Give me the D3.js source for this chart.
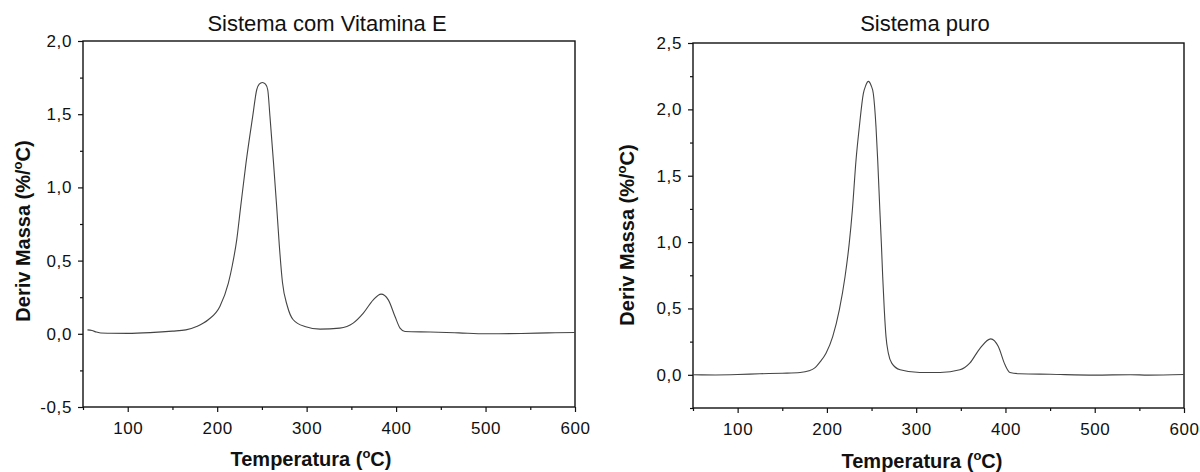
<!DOCTYPE html>
<html>
<head>
<meta charset="utf-8">
<script src="https://cdn.jsdelivr.net/npm/d3@7"></script>
<style>
body { margin: 0; background: #fff; }
text { font-family: "Liberation Sans", Arial, sans-serif; fill: #111; }
</style>
</head>
<body>
<script>
const width = 1200;
const height = 472;

// Sistema com Vitamina E
const vitTemp  = [55, 60, 65, 70, 80, 100, 125, 150, 165, 177, 190, 203, 212.5, 217, 221.8, 226.3, 232.2, 239.7, 244.2, 247, 250.5, 254, 256.5, 259, 263, 266.5, 269.5, 273, 278.4, 285, 298, 315, 337, 352, 363.4, 374.5, 383.2, 391.3, 398.8, 404.4, 410, 438, 470, 500, 540, 570, 600];
const vitDeriv = [0.027, 0.022, 0.012, 0.005, 0.004, 0.003, 0.008, 0.018, 0.027, 0.05, 0.096, 0.187, 0.346, 0.47, 0.64, 0.87, 1.166, 1.485, 1.667, 1.705, 1.717, 1.705, 1.667, 1.485, 1.166, 0.87, 0.6, 0.35, 0.19, 0.096, 0.05, 0.032, 0.039, 0.073, 0.141, 0.232, 0.271, 0.232, 0.118, 0.039, 0.016, 0.012, 0.006, 0.0, 0.002, 0.006, 0.009];

// Sistema puro
const puroTemp  = [50, 75, 100, 125, 150, 170, 180, 186, 192, 199, 206.5, 213.9, 220.3, 225, 228.5, 232.6, 236.3, 240.8, 243.5, 246.4, 249.5, 252, 255, 256.9, 259.3, 261, 262.5, 264.3, 266.2, 268.8, 272.6, 282, 304, 326.7, 349, 360, 371.5, 383.5, 392, 399.5, 405, 416, 450, 500, 540, 560, 600];
const puroDeriv = [0.0, -0.001, 0.002, 0.008, 0.012, 0.017, 0.03, 0.05, 0.095, 0.163, 0.288, 0.489, 0.739, 0.99, 1.24, 1.617, 1.867, 2.118, 2.18, 2.211, 2.18, 2.118, 1.867, 1.617, 1.24, 0.99, 0.739, 0.489, 0.288, 0.163, 0.088, 0.038, 0.017, 0.018, 0.038, 0.088, 0.2, 0.271, 0.213, 0.075, 0.017, 0.008, 0.004, -0.002, 0.001, -0.002, 0.002];

const xMajor = [100, 200, 300, 400, 500, 600];
const xMinor = [50, 150, 250, 350, 450, 550];
const vitYMajor = [-0.5, 0, 0.5, 1.0, 1.5, 2.0];
const vitYMinor = [-0.25, 0.25, 0.75, 1.25, 1.75];
const puroYMajor = [0, 0.5, 1.0, 1.5, 2.0, 2.5];
const puroYMinor = [-0.25, 0.25, 0.75, 1.25, 1.75, 2.25];

const fmt = v => v.toFixed(1).replace('.', ',');

const svg = d3.select('body').append('svg').attr('width', width).attr('height', height);

const panels = [
  {title: 'Sistema com Vitamina E', temp: vitTemp, deriv: vitDeriv, yDomain: [-0.5, 2.0],
   yMajor: vitYMajor, yMinor: vitYMinor, box: [83, 41, 575, 407],
   titleX: 327, titleY: 31, xLabX: 311, xLabY: 466, yLabX: 23, yLabY: 231},
  {title: 'Sistema puro', temp: puroTemp, deriv: puroDeriv, yDomain: [-0.25, 2.5],
   yMajor: puroYMajor, yMinor: puroYMinor, box: [693, 43, 1184, 408],
   titleX: 925, titleY: 31, xLabX: 922, xLabY: 468, yLabX: 627, yLabY: 235}
];

panels.forEach(p => {
  const [x0, y0, x1, y1] = p.box;
  const x = d3.scaleLinear().domain([50, 600]).range([x0, x1]);
  const y = d3.scaleLinear().domain(p.yDomain).range([y1, y0]);
  const g = svg.append('g');

  // minor ticks
  g.append('g').attr('transform', `translate(0,${y1})`)
    .call(d3.axisBottom(x).tickValues(xMinor).tickSize(3).tickSizeOuter(0).tickFormat(''))
    .call(a => a.select('.domain').remove());
  g.append('g').attr('transform', `translate(${x0},0)`)
    .call(d3.axisLeft(y).tickValues(p.yMinor).tickSize(3).tickSizeOuter(0).tickFormat(''))
    .call(a => a.select('.domain').remove());

  // major ticks + labels
  g.append('g').attr('transform', `translate(0,${y1})`)
    .call(d3.axisBottom(x).tickValues(xMajor).tickSize(5).tickPadding(10).tickSizeOuter(0).tickFormat(d3.format('d')))
    .call(a => a.select('.domain').remove());
  g.append('g').attr('transform', `translate(${x0},0)`)
    .call(d3.axisLeft(y).tickValues(p.yMajor).tickSize(5).tickPadding(6).tickSizeOuter(0).tickFormat(fmt))
    .call(a => a.select('.domain').remove());
  g.selectAll('.tick line').attr('stroke', '#111').attr('stroke-width', 1.2);
  g.selectAll('.tick text').attr('font-size', 17).attr('fill', '#111')
    .attr('letter-spacing', 0.6)
    .style('font-family', '"Liberation Sans", Arial, sans-serif');

  // frame
  g.append('rect').attr('x', x0).attr('y', y0).attr('width', x1 - x0).attr('height', y1 - y0)
    .attr('fill', 'none').attr('stroke', '#111').attr('stroke-width', 1.4);

  // curve
  const line = d3.line().x((d, i) => x(p.temp[i])).y(d => y(d)).curve(d3.curveMonotoneX);
  g.append('path').datum(p.deriv).attr('d', line)
    .attr('fill', 'none').attr('stroke', '#444').attr('stroke-width', 1.1);

  // titles
  g.append('text').attr('x', p.titleX).attr('y', p.titleY).attr('text-anchor', 'middle')
    .attr('font-size', 22).text(p.title);

  const xl = g.append('text').attr('x', p.xLabX).attr('y', p.xLabY).attr('text-anchor', 'middle')
    .attr('font-size', 20).attr('font-weight', 'bold');
  xl.append('tspan').text('Temperatura (');
  xl.append('tspan').attr('font-size', 13).attr('dy', -8).text('o');
  xl.append('tspan').attr('dy', 8).text('C)');

  const yl = g.append('text').attr('transform', `translate(${p.yLabX},${p.yLabY}) rotate(-90)`)
    .attr('text-anchor', 'middle').attr('dy', '0.35em')
    .attr('font-size', 20).attr('font-weight', 'bold');
  yl.append('tspan').text('Deriv Massa (%/');
  yl.append('tspan').attr('font-size', 13).attr('dy', -8).text('o');
  yl.append('tspan').attr('dy', 8).text('C)');
});
</script>
</body>
</html>
